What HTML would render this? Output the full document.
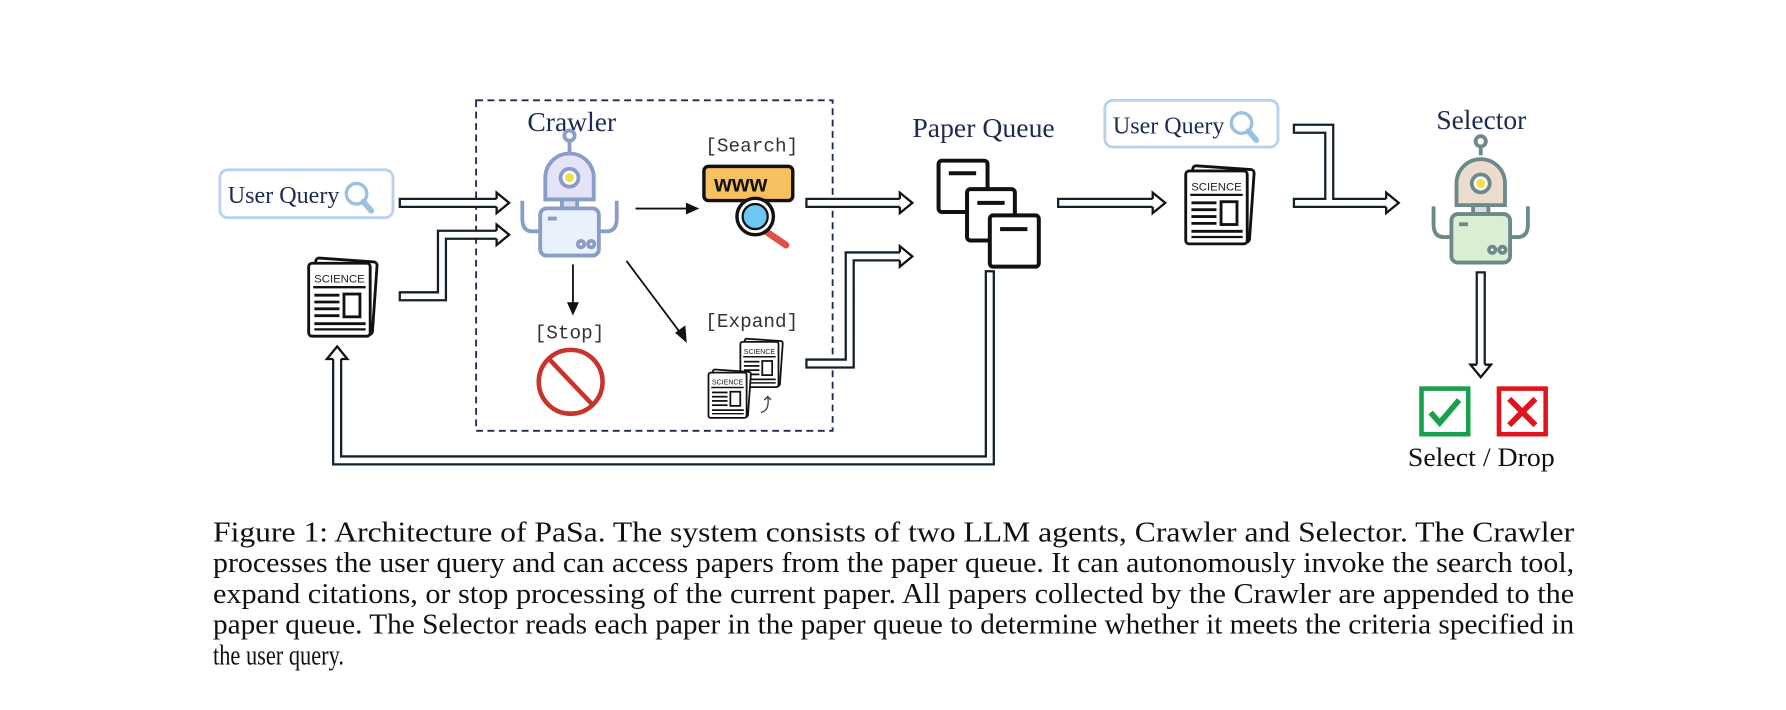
<!DOCTYPE html>
<html><head><meta charset="utf-8"><style>
html,body{margin:0;padding:0;background:#fff;width:1786px;height:710px;overflow:hidden}
svg{display:block}
.serif{font-family:"Liberation Serif",serif}
.mono{font-family:"Liberation Mono",monospace}
</style></head><body>
<svg width="1786" height="710" viewBox="0 0 1568 623" preserveAspectRatio="none" xmlns="http://www.w3.org/2000/svg">
<defs>
<g id="paper">
  <rect x="4" y="-3" width="54" height="64" rx="3" fill="#fff" stroke="#111" stroke-width="2.5" transform="rotate(4 30 30)"/>
  <rect x="0" y="0" width="54" height="64" rx="3" fill="#fff" stroke="#111" stroke-width="2.5"/>
  <text x="27" y="17" font-family="Liberation Sans,sans-serif" font-size="10" text-anchor="middle" fill="#222">SCIENCE</text>
  <line x1="4" y1="21" x2="50" y2="21" stroke="#111" stroke-width="2"/>
  <line x1="5" y1="28" x2="27" y2="28" stroke="#111" stroke-width="2.5"/>
  <line x1="5" y1="34" x2="27" y2="34" stroke="#111" stroke-width="2.5"/>
  <line x1="5" y1="40" x2="27" y2="40" stroke="#111" stroke-width="2.5"/>
  <line x1="5" y1="46" x2="27" y2="46" stroke="#111" stroke-width="2.5"/>
  <rect x="31" y="27" width="14" height="20" fill="#fff" stroke="#111" stroke-width="2.5"/>
  <line x1="5" y1="53" x2="50" y2="53" stroke="#111" stroke-width="2.5"/>
  <line x1="5" y1="58" x2="50" y2="58" stroke="#111" stroke-width="2"/>
</g>
<g id="mag">
  <circle cx="0" cy="0" r="9" fill="none" stroke="#9cc0e0" stroke-width="3"/>
  <line x1="6" y1="7" x2="13" y2="15" stroke="#9cc0e0" stroke-width="5" stroke-linecap="round"/>
</g>
</defs>

<rect x="418" y="88" width="313" height="290" fill="none" stroke="#1e2a50" stroke-width="1.6" stroke-dasharray="6,4"/>

<text x="463" y="115" class="serif" font-size="24" textLength="78" lengthAdjust="spacingAndGlyphs" fill="#1d2a52">Crawler</text>
<text x="801" y="120" class="serif" font-size="24" textLength="125" lengthAdjust="spacingAndGlyphs" fill="#1d2a52">Paper Queue</text>
<text x="1261" y="113" class="serif" font-size="24" textLength="79" lengthAdjust="spacingAndGlyphs" fill="#1d2a52">Selector</text>
<text x="660" y="133" class="mono" font-size="17" text-anchor="middle" fill="#333">[Search]</text>
<text x="500" y="297" class="mono" font-size="17" text-anchor="middle" fill="#333">[Stop]</text>
<text x="660" y="287" class="mono" font-size="17" text-anchor="middle" fill="#333">[Expand]</text>

<rect x="193" y="149" width="152" height="42" rx="7" fill="#fff" stroke="#b8d2ec" stroke-width="2.5"/>
<text x="200" y="178" class="serif" font-size="21" textLength="98" lengthAdjust="spacingAndGlyphs" fill="#1d2a52">User Query</text>
<use href="#mag" x="313" y="170"/>
<rect x="970" y="88" width="152" height="41" rx="7" fill="#fff" stroke="#b8d2ec" stroke-width="2.5"/>
<text x="977" y="117" class="serif" font-size="21" textLength="98" lengthAdjust="spacingAndGlyphs" fill="#1d2a52">User Query</text>
<use href="#mag" x="1090" y="108"/>

<use href="#paper" x="271" y="231"/>
<use href="#paper" x="1041" y="150"/>

<g transform="translate(500,175) scale(1.12) translate(-500,-175)">
<g stroke="#8a9cc8" stroke-width="3">
  <line x1="500" y1="128" x2="500" y2="138"/>
  <circle cx="500" cy="125" r="4" fill="#fff"/>
  <path d="M481 175 V158 a19 19 0 0 1 38 0 V175 Z" fill="#e5e3f8"/>
  <circle cx="500" cy="158" r="7" fill="#fff"/>
  <circle cx="500" cy="158" r="3.5" fill="#f0e040" stroke="none"/>
  <rect x="494" y="175" width="12" height="7" fill="#dde"/>
  <rect x="477" y="182" width="46" height="37" rx="5" fill="#e9f1fc"/>
  <path d="M477 200 h-6 q-8 0 -8 -10 v-14 M523 200 h6 q8 0 8 -10 v-14" fill="none"/>
  <circle cx="509" cy="210" r="2.5" fill="#fff"/><circle cx="517" cy="210" r="2.5" fill="#fff"/>
  <line x1="483" y1="190" x2="490" y2="190"/>
</g></g>
<g transform="translate(1300,180) scale(1.12) translate(-1300,-180)">
<g stroke="#6c8a8a" stroke-width="3">
  <line x1="1300" y1="133" x2="1300" y2="141"/>
  <circle cx="1300" cy="130" r="4" fill="#fff"/>
  <path d="M1281 180 V163 a19 19 0 0 1 38 0 V180 Z" fill="#ecdccd"/>
  <circle cx="1300" cy="163" r="7" fill="#fff"/>
  <circle cx="1300" cy="163" r="3.5" fill="#f0e040" stroke="none"/>
  <rect x="1294" y="180" width="12" height="7" fill="#ddd"/>
  <rect x="1277" y="187" width="46" height="38" rx="5" fill="#d9eed3"/>
  <path d="M1277 205 h-6 q-8 0 -8 -10 v-14 M1323 205 h6 q8 0 8 -10 v-14" fill="none"/>
  <circle cx="1309" cy="215" r="2.5" fill="#fff"/><circle cx="1317" cy="215" r="2.5" fill="#fff"/>
  <line x1="1283" y1="195" x2="1290" y2="195"/>
</g></g>

<rect x="618" y="146" width="78" height="30" rx="4" fill="#f8c160" stroke="#111" stroke-width="3"/>
<text x="627" y="168" font-family="Liberation Sans,sans-serif" font-weight="bold" font-size="20" fill="#111">www</text>
<line x1="665" y1="198" x2="690" y2="215" stroke="#e0504a" stroke-width="6" stroke-linecap="round"/>
<circle cx="663" cy="190" r="16" fill="#fff" stroke="#111" stroke-width="3"/>
<circle cx="663" cy="190" r="11" fill="#6cc8f0" stroke="#111" stroke-width="2"/>

<circle cx="501" cy="335" r="28" fill="none" stroke="#c8332a" stroke-width="4"/>
<line x1="482" y1="315" x2="521" y2="356" stroke="#c8332a" stroke-width="4"/>

<g transform="translate(650,300) scale(0.62)"><use href="#paper"/></g>
<g transform="translate(622,327) scale(0.62)"><use href="#paper"/></g>
<path d="M668 362 q8 -2 6 -14 l-3 3 m3 -3 l3 3" fill="none" stroke="#444" stroke-width="1.2"/>

<g fill="#fff" stroke="#111" stroke-width="3.5">
  <rect x="824" y="141" width="43" height="45" rx="3"/>
  <line x1="833" y1="152" x2="857" y2="152"/>
  <rect x="849" y="166" width="42" height="45" rx="3"/>
  <line x1="858" y1="178" x2="882" y2="178"/>
  <rect x="869" y="189" width="43" height="45" rx="3"/>
  <line x1="878" y1="201" x2="902" y2="201"/>
</g>

<g stroke="#111" stroke-width="1.6" fill="#111">
  <line x1="558" y1="183" x2="606" y2="183"/><polygon points="612,183 603,179 603,187"/>
  <line x1="503" y1="232" x2="503" y2="268"/><polygon points="503,275 499,266 507,266"/>
  <line x1="550" y1="229" x2="598" y2="293"/><polygon points="602,299 594,292 601,287"/>
</g>

<g fill="none" stroke-linejoin="miter" stroke-linecap="butt">
  <g stroke="#12222c" stroke-width="9">
    <path d="M350 178 H436"/>
    <path d="M350 260 H388 V206 H436"/>
    <path d="M707 178 H790"/>
    <path d="M707 319 H746 V225 H790"/>
    <path d="M928 178 H1012"/>
    <path d="M1135 113 H1167 V178 M1135 178 H1217"/>
    <path d="M869 237 V404 H296 V315"/>
    <path d="M1300 238 V320"/>
  </g>
  <g stroke="#fff" stroke-width="5">
    <path d="M352 178 H436"/>
    <path d="M352 260 H388 V206 H436"/>
    <path d="M709 178 H790"/>
    <path d="M709 319 H746 V225 H790"/>
    <path d="M930 178 H1012"/>
    <path d="M1137 113 H1167 V178 M1137 178 H1217"/>
    <path d="M869 239 V404 H296 V315"/>
    <path d="M1300 240 V320"/>
  </g>
  <g stroke="#111" stroke-width="2" fill="#fff">
    <polyline points="436,174.5 436,169 447,178 436,187 436,181.5"/>
    <polyline points="436,202.5 436,197 447,206 436,215 436,209.5"/>
    <polyline points="790,174.5 790,169 801,178 790,187 790,181.5"/>
    <polyline points="790,221.5 790,216 801,225 790,234 790,228.5"/>
    <polyline points="1012,174.5 1012,169 1023,178 1012,187 1012,181.5"/>
    <polyline points="1217,174.5 1217,169 1228,178 1217,187 1217,181.5"/>
    <polyline points="292.5,315 287,315 296,304 305,315 299.5,315"/>
    <polyline points="1296.5,320 1291,320 1300,331 1309,320 1303.5,320"/>
  </g>
</g>

<rect x="1248" y="341" width="41" height="40" fill="#fff" stroke="#1aa04a" stroke-width="4"/>
<path d="M1256 362 l8 9 l17 -20" fill="none" stroke="#1aa04a" stroke-width="5"/>
<rect x="1316" y="341" width="41" height="40" fill="#fff" stroke="#e0141c" stroke-width="4"/>
<path d="M1325 350 l23 23 M1348 350 l-23 23" stroke="#e0141c" stroke-width="5"/>
<text x="1236" y="409" class="serif" font-size="23" textLength="129" lengthAdjust="spacingAndGlyphs" fill="#111">Select / Drop</text>

<g class="serif" font-size="25" fill="#111">
  <text x="187" y="475" textLength="1195" lengthAdjust="spacingAndGlyphs">Figure 1:  Architecture of PaSa.  The system consists of two LLM agents, Crawler and Selector.  The Crawler</text>
  <text x="187" y="502" textLength="1195" lengthAdjust="spacingAndGlyphs">processes the user query and can access papers from the paper queue. It can autonomously invoke the search tool,</text>
  <text x="187" y="529" textLength="1195" lengthAdjust="spacingAndGlyphs">expand citations, or stop processing of the current paper. All papers collected by the Crawler are appended to the</text>
  <text x="187" y="556" textLength="1195" lengthAdjust="spacingAndGlyphs">paper queue. The Selector reads each paper in the paper queue to determine whether it meets the criteria specified in</text>
  <text x="187" y="583" textLength="115" lengthAdjust="spacingAndGlyphs">the user query.</text>
</g>
</svg>
</body></html>
